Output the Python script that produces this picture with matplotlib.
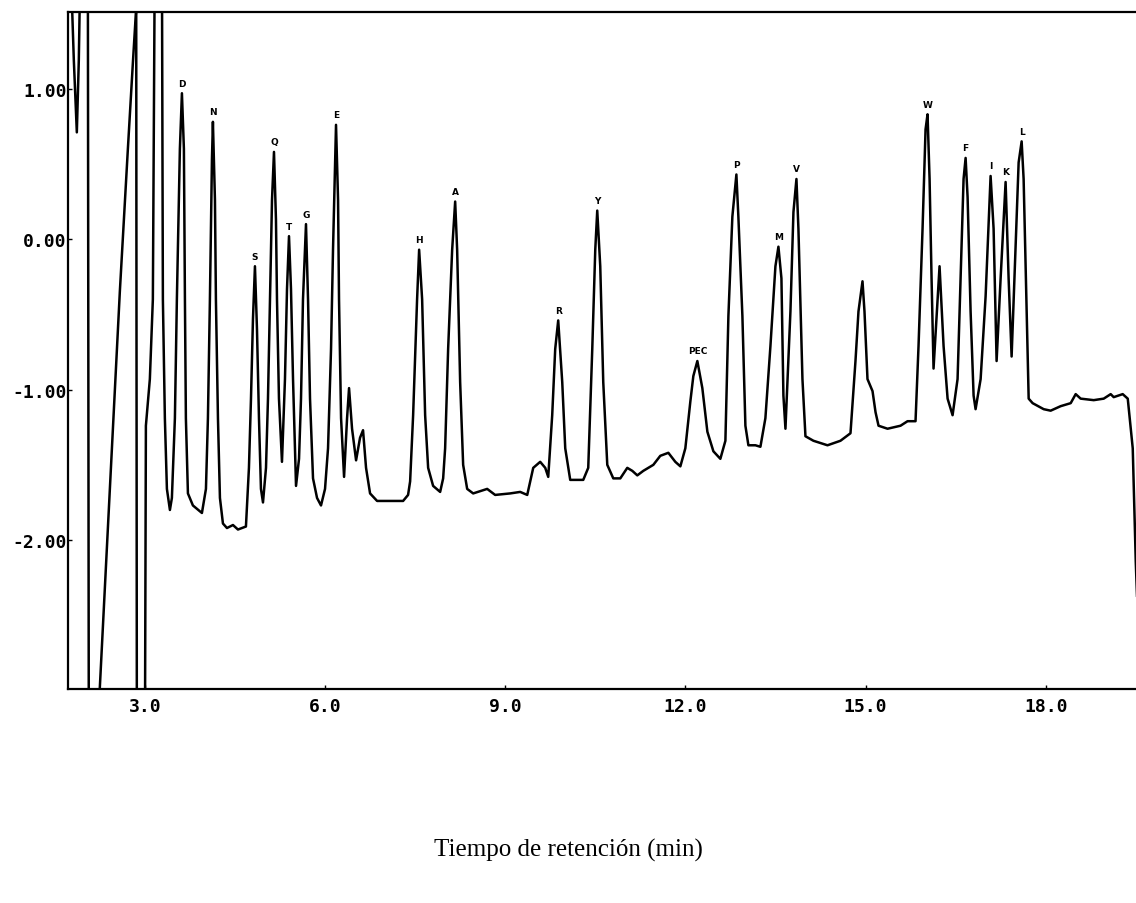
import numpy as np
import matplotlib
matplotlib.use("Agg")
import matplotlib.pyplot as plt

# Chromatogram trace (time in min, signal); off-scale parts use 2.0 / -3.5
time = [1.750, 1.817, 1.867, 1.900, 1.933, 2.050, 2.067, 2.233, 2.250, 2.583, 2.717, 2.800, 2.850, 2.855, 2.867,
        3.000, 3.017, 3.083, 3.133, 3.167, 3.283, 3.300, 3.333, 3.367, 3.417,
        3.450, 3.500, 3.533, 3.583, 3.617, 3.650, 3.667, 3.683, 3.717, 3.800, 3.950,
        4.017, 4.050, 4.083, 4.117, 4.133, 4.167, 4.183, 4.217, 4.250, 4.300, 4.367, 4.467, 4.550, 4.683,
        4.733, 4.767, 4.800, 4.833, 4.867, 4.900, 4.933, 4.967,
        5.017, 5.050, 5.083, 5.117, 5.150, 5.183, 5.200, 5.233, 5.283,
        5.333, 5.367, 5.400, 5.433, 5.467, 5.517,
        5.567, 5.600, 5.633, 5.683, 5.717, 5.750, 5.800, 5.867, 5.933,
        6.000, 6.050, 6.100, 6.133, 6.183, 6.217, 6.233, 6.267, 6.317, 6.367, 6.400, 6.450, 6.517,
        6.583, 6.633, 6.683, 6.750, 6.867, 7.083, 7.300, 7.383,
        7.417, 7.467, 7.533, 7.567, 7.617, 7.667, 7.717, 7.800, 7.917,
        7.967, 8.000, 8.050, 8.117, 8.167, 8.200, 8.250, 8.300, 8.367, 8.467, 8.700, 8.833, 9.083,
        9.250, 9.367, 9.467, 9.583, 9.667, 9.717,
        9.783, 9.833, 9.883, 9.950, 10.000, 10.083, 10.200, 10.300, 10.383,
        10.450, 10.500, 10.533, 10.583, 10.633, 10.700, 10.800, 10.917, 11.033, 11.117, 11.200,
        11.300, 11.467, 11.583, 11.717, 11.833, 11.917, 12.000,
        12.083, 12.133, 12.200, 12.283, 12.367, 12.467, 12.583, 12.667,
        12.717, 12.783, 12.850, 12.883, 12.950, 13.000, 13.050, 13.167, 13.250,
        13.333, 13.417, 13.500, 13.550, 13.600, 13.633, 13.667,
        13.750, 13.800, 13.850, 13.883, 13.950, 14.000, 14.133, 14.367, 14.583, 14.750,
        14.833, 14.883, 14.950, 14.983, 15.033, 15.117, 15.167, 15.217, 15.367, 15.583, 15.700, 15.833,
        15.883, 15.950, 16.000, 16.033, 16.067, 16.100, 16.133, 16.233, 16.300, 16.367, 16.450, 16.533,
        16.583, 16.633, 16.667, 16.700, 16.750, 16.800, 16.833, 16.917, 17.000,
        17.083, 17.133, 17.183, 17.250, 17.333, 17.383, 17.433,
        17.500, 17.550, 17.600, 17.633, 17.683, 17.717, 17.783, 17.967, 18.083, 18.250, 18.417,
        18.500, 18.583, 18.800, 18.967, 19.083, 19.133, 19.283, 19.367, 19.450, 19.500, 19.583]

signal = [2.0, 1.19, 0.71, 1.19, 2.0, 2.0, -3.5, -3.5, -2.98, -0.35, 0.60, 1.17, 1.50, 2.0, -3.5,
          -3.5, -1.24, -0.93, -0.40, 2.0, 2.0, -0.40, -1.19, -1.66, -1.80,
          -1.72, -1.19, -0.40, 0.60, 0.97, 0.60, -0.40, -1.19, -1.69, -1.77, -1.82,
          -1.66, -1.19, -0.40, 0.53, 0.78, 0.26, -0.40, -1.19, -1.72, -1.89, -1.92, -1.90, -1.93, -1.91,
          -1.52, -1.06, -0.53, -0.18, -0.60, -1.19, -1.66, -1.75,
          -1.52, -1.06, -0.40, 0.26, 0.58, 0.13, -0.40, -1.06, -1.48,
          -0.93, -0.33, 0.02, -0.33, -0.93, -1.64,
          -1.46, -1.06, -0.40, 0.10, -0.40, -1.06, -1.59, -1.72, -1.77,
          -1.66, -1.39, -0.73, -0.07, 0.76, 0.26, -0.40, -1.19, -1.58, -1.19, -0.99, -1.26, -1.47,
          -1.32, -1.27, -1.52, -1.69, -1.74, -1.74, -1.74, -1.70,
          -1.61, -1.17, -0.40, -0.07, -0.40, -1.17, -1.52, -1.64, -1.68,
          -1.59, -1.39, -0.73, -0.07, 0.25, -0.07, -0.95, -1.50, -1.66, -1.69, -1.66, -1.70, -1.69,
          -1.68, -1.70, -1.52, -1.48, -1.52, -1.58,
          -1.17, -0.73, -0.54, -0.95, -1.39, -1.60, -1.60, -1.60, -1.52,
          -0.73, -0.07, 0.19, -0.18, -0.95, -1.50, -1.59, -1.59, -1.52, -1.54, -1.57,
          -1.54, -1.50, -1.44, -1.42, -1.48, -1.51, -1.39,
          -1.08, -0.91, -0.81, -0.99, -1.28, -1.41, -1.46, -1.34,
          -0.51, 0.15, 0.43, 0.15, -0.51, -1.24, -1.37, -1.37, -1.38,
          -1.19, -0.71, -0.18, -0.05, -0.26, -1.04, -1.26,
          -0.48, 0.18, 0.40, 0.07, -0.93, -1.31, -1.34, -1.37, -1.34, -1.29,
          -0.81, -0.48, -0.28, -0.48, -0.93, -1.01, -1.15, -1.24, -1.26, -1.24, -1.21, -1.21,
          -0.71, 0.07, 0.73, 0.83, 0.40, -0.26, -0.86, -0.18, -0.71, -1.06, -1.17, -0.93,
          -0.26, 0.40, 0.54, 0.28, -0.48, -1.04, -1.13, -0.93, -0.38,
          0.42, 0.07, -0.81, -0.26, 0.38, -0.26, -0.78,
          -0.05, 0.51, 0.65, 0.40, -0.48, -1.06, -1.09, -1.13, -1.14, -1.11, -1.09,
          -1.03, -1.06, -1.07, -1.06, -1.03, -1.05, -1.03, -1.06, -1.39, -2.14, -3.05]

# Labelled peaks (name, retention time)
peak_names = ["D", "N", "S", "Q", "T", "G", "E", "H", "A", "R", "Y", "PEC",
              "P", "M", "V", "W", "F", "I", "K", "L"]
peak_times = [3.617, 4.133, 4.833, 5.150, 5.400, 5.683, 6.183, 7.567, 8.167, 9.883, 10.533, 12.200,
              12.850, 13.550, 13.850, 16.033, 16.667, 17.083, 17.333, 17.600]

x_ticks = [3.0, 6.0, 9.0, 12.0, 15.0, 18.0]
y_ticks = [1.0, 0.0, -1.0, -2.0]

t = np.array(time)
s = np.array(signal)

fig = plt.figure(figsize=(11.36, 9.04), dpi=100)
ax = fig.add_axes([68 / 1136, 1 - 690 / 904, 1.004 - 68 / 1136, (690 - 13) / 904])

ax.plot(t, s, color="black", lw=1.8, solid_joinstyle="round")

for name, pt in zip(peak_names, peak_times):
    near = np.abs(t - pt) < 0.02
    top = s[near].max()
    ax.annotate(name, (pt, top), xytext=(0, 4), textcoords="offset points",
                ha="center", va="bottom", fontsize=6.5, fontweight="bold",
                family="DejaVu Sans")

ax.set_xlim(1.72, 19.58)
ax.set_ylim(-2.99, 1.51)

ax.set_xticks(x_ticks)
ax.set_xticklabels([f"{v:.1f}" for v in x_ticks])
ax.set_yticks(y_ticks)
ax.set_yticklabels([f"{v:.2f}" for v in y_ticks])
ax.tick_params(direction="in", length=3, width=1, pad=6)
for lab in ax.get_xticklabels() + ax.get_yticklabels():
    lab.set_fontfamily("DejaVu Sans Mono")
    lab.set_fontweight("bold")
    lab.set_fontsize(13)
ax.tick_params(axis="y", pad=1)

ax.spines["right"].set_visible(False)
for side in ["left", "top", "bottom"]:
    ax.spines[side].set_linewidth(1.6)

fig.text(0.5, 1 - 850 / 904, "Tiempo de retención (min)", ha="center", va="center",
         fontsize=18, family="Liberation Serif")

fig.savefig("out.png", dpi=100)
